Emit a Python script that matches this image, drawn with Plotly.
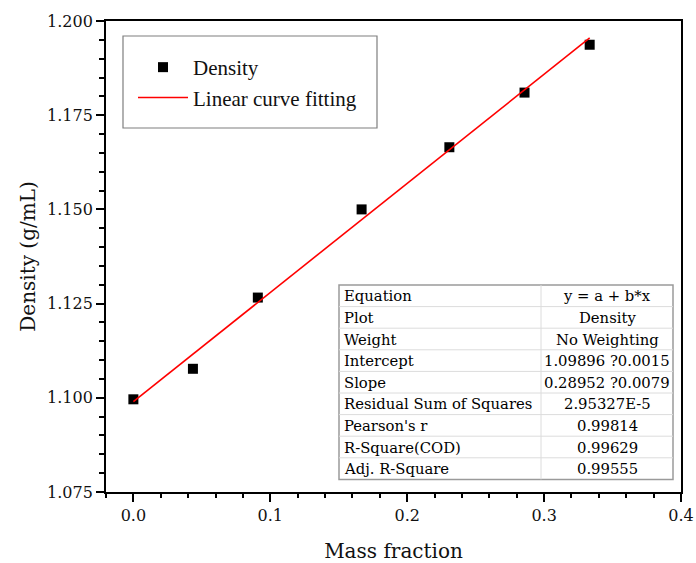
import plotly.graph_objects as go

# ---- data ----
mass_fraction = [0.0, 0.0435, 0.0909, 0.1667, 0.2308, 0.2857, 0.3333]
density = [1.0996, 1.1077, 1.1266, 1.1500, 1.1665, 1.1810, 1.1937]
fit_x = [0.0, 0.3333]
fit_y = [1.0990, 1.1955]

table_labels = ["Equation", "Plot", "Weight", "Intercept", "Slope",
                "Residual Sum of Squares", "Pearson's r", "R-Square(COD)", "Adj. R-Square"]
table_values = ["y = a + b*x", "Density", "No Weighting", "1.09896 ?0.0015",
                "0.28952 ?0.0079", "2.95327E-5", "0.99814", "0.99629", "0.99555"]

W, H = 696, 563
L, R, T, B = 106, 15, 21, 71
PW, PH = W - L - R, H - T - B

def px(x):
    return (x - L) / PW

def py(y):
    return (H - B - y) / PH

SERIF = "Liberation Serif"
CAMB = "DejaVu Serif"

fig = go.Figure()
fig.add_trace(go.Scatter(x=mass_fraction, y=density, mode="markers", name="Density",
                         marker=dict(symbol="square", size=10, color="black")))
fig.add_trace(go.Scatter(x=fit_x, y=fit_y, mode="lines", name="Linear curve fitting",
                         line=dict(color="#ff0000", width=1.6)))

shapes = []
annotations = []
# legend frame
shapes.append(dict(type="rect", xref="paper", yref="paper",
                   x0=px(123), x1=px(377), y0=py(128), y1=py(36),
                   line=dict(color="#7f7f7f", width=1.2), fillcolor="white", layer="below"))

# table
tx0, tx1, tmid = 339, 673, 541
ty0, rh = 285, 21.6
n = len(table_labels)
ty1 = ty0 + rh * n
shapes.append(dict(type="rect", xref="paper", yref="paper",
                   x0=px(tx0), x1=px(tx1), y0=py(ty1), y1=py(ty0),
                   line=dict(color="#9a9a9a", width=1.5), fillcolor="white", layer="above"))
for i in range(1, n):
    yy = ty0 + rh * i
    shapes.append(dict(type="line", xref="paper", yref="paper",
                       x0=px(tx0), x1=px(tx1), y0=py(yy), y1=py(yy),
                       line=dict(color="#dcdcdc", width=1), layer="above"))
shapes.append(dict(type="line", xref="paper", yref="paper",
                   x0=px(tmid), x1=px(tmid), y0=py(ty0), y1=py(ty1),
                   line=dict(color="#dcdcdc", width=1), layer="above"))
for i, (lab, val) in enumerate(zip(table_labels, table_values)):
    yc = ty0 + rh * (i + 0.5)
    annotations.append(dict(xref="paper", yref="paper", x=px(tx0 + 3), y=py(yc),
                            xanchor="left", yanchor="middle", text=lab, showarrow=False,
                            font=dict(family=CAMB, size=14.8, color="#000")))
    annotations.append(dict(xref="paper", yref="paper", x=px((tmid + tx1) / 2), y=py(yc),
                            xanchor="center", yanchor="middle", text=val, showarrow=False,
                            font=dict(family=CAMB, size=14.8, color="#000")))

axis_common = dict(showgrid=False, zeroline=False, showline=True, linecolor="black",
                   linewidth=1.8, mirror=True, ticks="outside", ticklen=8, tickwidth=1.5,
                   tickcolor="black", automargin=False,
                   tickfont=dict(family=CAMB, size=16, color="#111"))

fig.update_layout(
    width=W, height=H,
    margin=dict(l=L, r=R, t=T, b=B),
    paper_bgcolor="white", plot_bgcolor="white",
    xaxis=dict(range=[-0.02, 0.4], dtick=0.1, tick0=0, tickformat=".1f",
               minor=dict(dtick=0.02, ticks="outside", ticklen=4, tickwidth=1.5, tickcolor="black"),
               title=dict(text="Mass fraction", font=dict(family=CAMB, size=20, color="#111"), standoff=24),
               **axis_common),
    yaxis=dict(range=[1.075, 1.200], dtick=0.025, tick0=1.075, tickformat=".3f",
               minor=dict(dtick=0.005, ticks="outside", ticklen=5, tickwidth=1.5, tickcolor="black"),
               title=dict(text="Density (g/mL)", font=dict(family=CAMB, size=20, color="#111"), standoff=6),
               **axis_common),
    showlegend=True,
    legend=dict(x=px(133), y=py(47), xanchor="left", yanchor="top",
                bgcolor="rgba(0,0,0,0)", borderwidth=0,
                font=dict(family=SERIF, size=21, color="#111"),
                itemwidth=50, tracegroupgap=0),
    shapes=shapes,
    annotations=annotations,
)

fig.write_html("out.html", config={"displayModeBar": False},
               post_script="document.body.style.margin='0';document.body.style.padding='0';")
